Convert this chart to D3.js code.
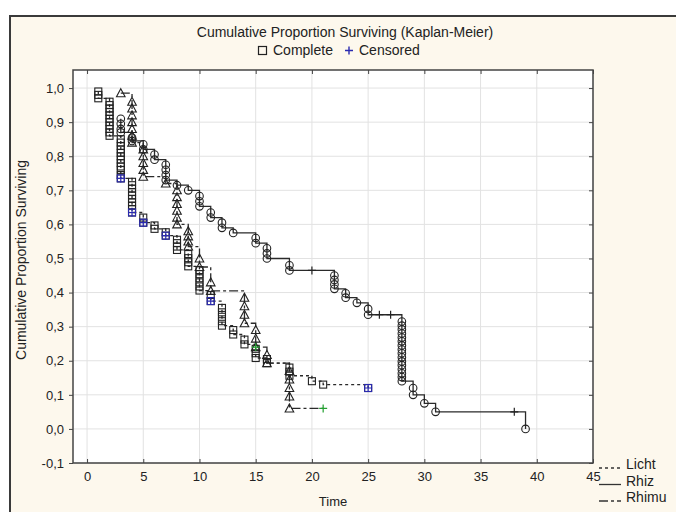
<!DOCTYPE html>
<html><head><meta charset="utf-8">
<script src="https://cdn.jsdelivr.net/npm/d3@7/dist/d3.min.js"></script>
<style>
html,body{margin:0;padding:0;background:#fff;}
svg{display:block;font-family:"Liberation Sans",Arial,sans-serif;}
</style></head>
<body>
<svg id="chart" width="676" height="512"></svg>
<script>
// ---------------- DATA ----------------
const xTicks = [0,5,10,15,20,25,30,35,40,45];
const yTicks = [-0.1,0,0.1,0.2,0.3,0.4,0.5,0.6,0.7,0.8,0.9,1.0];
const groups = ["Licht","Rhiz","Rhimu"];

// Licht: event times and survival value of each complete observation (squares)
const lichtTimes = [1,2,3,4,5,6,7,8,9,10,11,12,13,14,15,16,18,20,21,25];
const lichtStacks = [
  [0.99,0.98,0.97],
  [0.96,0.95,0.94,0.93,0.92,0.91,0.90,0.89,0.88,0.87,0.86],
  [0.85,0.84,0.83,0.82,0.81,0.80,0.79,0.78,0.77,0.76,0.745,0.735],
  [0.725,0.715,0.705,0.695,0.685,0.675,0.665,0.655,0.645,0.635],
  [0.62,0.605],
  [0.597,0.587],
  [0.577,0.567],
  [0.555,0.545,0.535,0.525],
  [0.513,0.501,0.489,0.477],
  [0.466,0.454,0.442,0.430,0.418,0.406],
  [0.393,0.375],
  [0.355,0.342,0.329,0.316,0.303],
  [0.29,0.277],
  [0.262,0.248],
  [0.235,0.222,0.208],
  [0.205,0.193],
  [0.18,0.168,0.156],
  [0.14],
  [0.13],
  [0.12]
];
const lichtCensored = [[3,0.735],[4,0.635],[5,0.605],[7,0.567],[11,0.375],[25,0.12]];

// Rhiz: circles
const rhizTimes = [3,4,5,6,7,8,9,10,11,12,13,15,16,18,22,23,24,25,28,29,30,31,39];
const rhizStacks = [
  [0.91,0.895,0.88,0.87],
  [0.855,0.845],
  [0.835,0.82],
  [0.805,0.79],
  [0.775,0.76,0.745,0.73],
  [0.715],
  [0.70],
  [0.683,0.668,0.653],
  [0.635,0.62],
  [0.605,0.59],
  [0.575],
  [0.56,0.545],
  [0.53,0.515,0.50],
  [0.48,0.465],
  [0.45,0.437,0.424,0.411],
  [0.398,0.385],
  [0.37],
  [0.352,0.335],
  [0.315,0.303,0.292,0.28,0.268,0.257,0.245,0.233,0.222,0.21,0.198,0.187,0.175,0.163,0.152,0.14],
  [0.12,0.10],
  [0.075],
  [0.05],
  [0.0]
];
const rhizCensored = [[20,0.465],[26,0.335],[27,0.335],[38,0.05]];

// Rhimu: triangles
const rhimuTimes = [3,4,5,7,8,9,10,11,14,15,16,18];
const rhimuStacks = [
  [0.985],
  [0.96,0.94,0.92,0.90,0.88,0.86,0.84],
  [0.82,0.80,0.78,0.76,0.74],
  [0.72],
  [0.70,0.68,0.66,0.64,0.62,0.60],
  [0.58,0.565,0.55,0.535],
  [0.50,0.475],
  [0.43,0.405],
  [0.385,0.36,0.335,0.31],
  [0.29,0.265,0.24],
  [0.217,0.193],
  [0.17,0.145,0.12,0.095,0.06]
];
const rhimuCensored = [[15,0.24],[21,0.06]];

// ---------------- CHART ----------------
const svg = d3.select("#chart");
const ink = "#222";
const margin = {left:73, right:593, top:70, bottom:463};

// outer frame / background
svg.append("rect").attr("x",10).attr("y",16).attr("width",700).attr("height",520)
  .attr("fill","#fdf8ed").attr("stroke","#3a3a3a").attr("stroke-width",2);

const x = d3.scaleLinear().domain([-1.25,45]).range([margin.left,margin.right]);
const y = d3.scaleLinear().domain([-0.1,1.053]).range([margin.bottom,margin.top]);

// plot area
svg.append("rect").attr("x",margin.left).attr("y",margin.top)
  .attr("width",margin.right-margin.left).attr("height",margin.bottom-margin.top)
  .attr("fill","#fff");

// grid
const grid = svg.append("g");
grid.selectAll("line.v").data(xTicks).join("line")
  .attr("x1",d=>x(d)).attr("x2",d=>x(d)).attr("y1",margin.top).attr("y2",margin.bottom)
  .attr("stroke","#e2e2e2").attr("stroke-width",1);
grid.selectAll("line.h").data(yTicks).join("line")
  .attr("y1",d=>y(d)).attr("y2",d=>y(d)).attr("x1",margin.left).attr("x2",margin.right)
  .attr("stroke","#e2e2e2").attr("stroke-width",1);

const fmt = d => d3.format(".1f")(d).replace(".",",").replace("−","-");

// axes
const gx = svg.append("g").attr("transform",`translate(0,${margin.bottom})`)
  .call(d3.axisBottom(x).tickValues(xTicks).tickFormat(d3.format("d")).tickSize(-4).tickPadding(9));
const gy = svg.append("g").attr("transform",`translate(${margin.left},0)`)
  .call(d3.axisLeft(y).tickValues(yTicks).tickFormat(fmt).tickSize(4).tickPadding(5));
const gxt = svg.append("g").attr("transform",`translate(0,${margin.top})`)
  .call(d3.axisTop(x).tickValues(xTicks).tickFormat("").tickSize(-4));
const gyr = svg.append("g").attr("transform",`translate(${margin.right},0)`)
  .call(d3.axisRight(y).tickValues(yTicks).tickFormat("").tickSize(-4));
[gx,gy,gxt,gyr].forEach(g=>{
  g.select(".domain").remove();
  g.selectAll(".tick line").attr("stroke","#444");
  g.selectAll("text").attr("fill",ink).attr("font-size",13)
    .attr("font-family","'Liberation Sans',Arial,sans-serif");
});
// frame
svg.append("rect").attr("x",margin.left).attr("y",margin.top)
  .attr("width",margin.right-margin.left).attr("height",margin.bottom-margin.top)
  .attr("fill","none").attr("stroke","#444").attr("stroke-width",1.5);

// curves
function pointsOf(times, stacks, cens){
  const pts = [];
  times.forEach((t,i)=>stacks[i].forEach(v=>pts.push([t,v])));
  cens.forEach(c=>pts.push(c));
  pts.sort((a,b)=> a[0]-b[0] || b[1]-a[1]);
  return pts;
}
const line = d3.line().x(d=>x(d[0])).y(d=>y(d[1])).curve(d3.curveStepAfter);
const series = [
  {name:"Licht", times:lichtTimes, stacks:lichtStacks, cens:lichtCensored, dash:"3,3", shape:"square", ccol:"#2a2ab0"},
  {name:"Rhiz", times:rhizTimes, stacks:rhizStacks, cens:rhizCensored, dash:null, shape:"circle", ccol:"#222"},
  {name:"Rhimu", times:rhimuTimes, stacks:rhimuStacks, cens:rhimuCensored, dash:"9,3,3,3", shape:"triangle", ccol:"#22a030"}
];
const plot = svg.append("g");
series.forEach(s=>{
  plot.append("path")
    .attr("d",line(pointsOf(s.times,s.stacks,s.cens)))
    .attr("fill","none").attr("stroke","#2a2a2a").attr("stroke-width",1.3)
    .attr("stroke-dasharray",s.dash);
});
function drawMarker(g, shape, cx, cy, col){
  if(shape==="square"){
    g.append("rect").attr("x",cx-3.5).attr("y",cy-3.5).attr("width",7).attr("height",7)
      .attr("fill","none").attr("stroke",col).attr("stroke-width",1.1);
  } else if(shape==="circle"){
    g.append("circle").attr("cx",cx).attr("cy",cy).attr("r",3.8)
      .attr("fill","none").attr("stroke",col).attr("stroke-width",1.1);
  } else {
    g.append("path").attr("d",`M${cx},${cy-4.5}L${cx+4.3},${cy+3.5}L${cx-4.3},${cy+3.5}Z`)
      .attr("fill","none").attr("stroke",col).attr("stroke-width",1.1);
  }
}
series.forEach(s=>{
  const g = plot.append("g");
  s.times.forEach((t,i)=>s.stacks[i].forEach(v=>drawMarker(g,s.shape,x(t),y(v),ink)));
});
series.forEach(s=>{
  const g = plot.append("g");
  s.cens.forEach(c=>{
    const cx=x(c[0]), cy=y(c[1]);
    if(s.shape==="square") drawMarker(g,"square",cx,cy,s.ccol);
    g.append("path").attr("d",`M${cx-4},${cy}H${cx+4}M${cx},${cy-4}V${cy+4}`)
      .attr("stroke",s.ccol).attr("stroke-width",1.2);
  });
});

// titles
svg.append("text").attr("x",345).attr("y",37).attr("text-anchor","middle")
  .attr("font-size",14).attr("fill",ink).text("Cumulative Proportion Surviving (Kaplan-Meier)");
const lg = svg.append("g");
lg.append("rect").attr("x",258.5).attr("y",46.5).attr("width",8).attr("height",8)
  .attr("fill","none").attr("stroke",ink).attr("stroke-width",1.2);
lg.append("text").attr("x",273).attr("y",55).attr("font-size",14).attr("fill",ink).text("Complete");
lg.append("path").attr("d","M345,50.5H353M349,46.5V54.5").attr("stroke","#2a2ab0").attr("stroke-width",1.4);
lg.append("text").attr("x",359).attr("y",55).attr("font-size",14).attr("fill",ink).text("Censored");

svg.append("text").attr("transform","translate(26,260) rotate(-90)").attr("text-anchor","middle")
  .attr("font-size",14).attr("fill",ink).text("Cumulative Proportion Surviving");
svg.append("text").attr("x",333).attr("y",506).attr("text-anchor","middle")
  .attr("font-size",13).attr("fill",ink).text("Time");

// series legend
const sl = svg.append("g");
series.forEach((s,i)=>{
  const yy = 467 + i*16.5;
  sl.append("line").attr("x1",599).attr("x2",621).attr("y1",yy+1).attr("y2",yy+1)
    .attr("stroke","#333").attr("stroke-width",1.3).attr("stroke-dasharray",s.dash);
  sl.append("text").attr("x",626).attr("y",yy+2).attr("font-size",14).attr("fill",ink).text(s.name);
});
</script>
</body></html>
